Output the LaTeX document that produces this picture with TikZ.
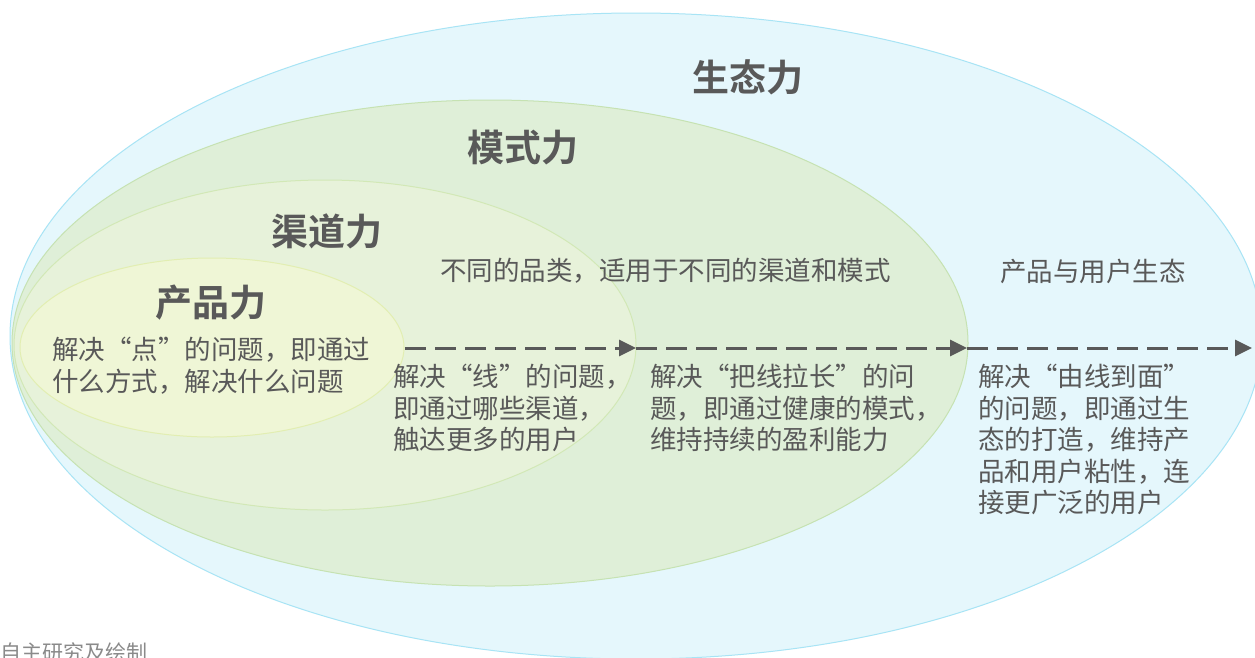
\documentclass[tikz,border=0pt]{standalone}
\usepackage{fontspec}
\setmainfont{Noto Sans CJK SC}[BoldFont={Noto Sans CJK SC Bold}]
\usetikzlibrary{arrows.meta}
\definecolor{txt}{HTML}{595959}
\definecolor{ecoF}{HTML}{E5F7FC}
\definecolor{ecoD}{HTML}{A8E4F5}
\definecolor{modF}{HTML}{DFEFD8}
\definecolor{modD}{HTML}{C6E2B2}
\definecolor{chaF}{HTML}{E7F2DA}
\definecolor{chaD}{HTML}{D2E8B6}
\definecolor{proF}{HTML}{EFF6D6}
\definecolor{proD}{HTML}{E2EEB2}
\definecolor{note}{HTML}{8A8A8A}
\tikzset{
  ring/.style={line width=1pt},
  title/.style={font=\bfseries\fontsize{37}{40}\selectfont, text=txt, inner sep=0pt},
  body/.style={font=\fontsize{26.5}{31.5}\selectfont, text=txt, inner sep=0pt, align=left, anchor=north west},
  flow/.style={line width=3pt, draw=txt, dash pattern=on 21pt off 9pt, -{Triangle[length=17pt,width=16pt]}}
}
\begin{document}
\begin{tikzpicture}[x=1pt,y=-1pt]
\useasboundingbox (0,0) rectangle (1255,657);
\fill[white] (0,0) rectangle (1255,657);
\draw[ring, fill=ecoF, draw=ecoD] (636,336) ellipse [x radius=626, y radius=323];
\draw[ring, fill=modF, draw=modD] (490,343) ellipse [x radius=478, y radius=243];
\draw[ring, fill=chaF, draw=chaD] (325,345) ellipse [x radius=311, y radius=165];
\draw[ring, fill=proF, draw=proD] (212,347.5) ellipse [x radius=192, y radius=89.5];

\node[title] (teco) at (748,77) {生态力};
\node[title] (tmod) at (523,148) {模式力};
\node[title] (tcha) at (327,231) {渠道力};
\node[title] (tpro) at (211,303) {产品力};

\node[body, anchor=west] (sub1) at (440,271) {不同的品类，适用于不同的渠道和模式};
\node[body, anchor=west] (sub2) at (1000,271) {产品与用户生态};

\node[body] (d1) at (52,337) {解决“点”的问题，即通过\\什么方式，解决什么问题};
\node[body] (d2) at (393,364) {解决“线”的问题，\\即通过哪些渠道，\\触达更多的用户};
\node[body] (d3) at (650,364) {解决“把线拉长”的问\\题，即通过健康的模式，\\维持持续的盈利能力};
\node[body] (d4) at (978,364) {解决“由线到面”\\的问题，即通过生\\态的打造，维持产\\品和用户粘性，连\\接更广泛的用户};

\coordinate (p0) at (405,348);
\coordinate (p1) at (636,348);
\coordinate (p2) at (967,348);
\coordinate (p3) at (1252,348);
\draw[flow] (p0) -- (p1);
\draw[flow] (p1) -- (p2);
\draw[flow] (p2) -- (p3);

\node[font=\fontsize{21}{24}\selectfont, text=note, inner sep=0pt, anchor=west] (src) at (0,652) {自主研究及绘制};
\end{tikzpicture}
\end{document}
